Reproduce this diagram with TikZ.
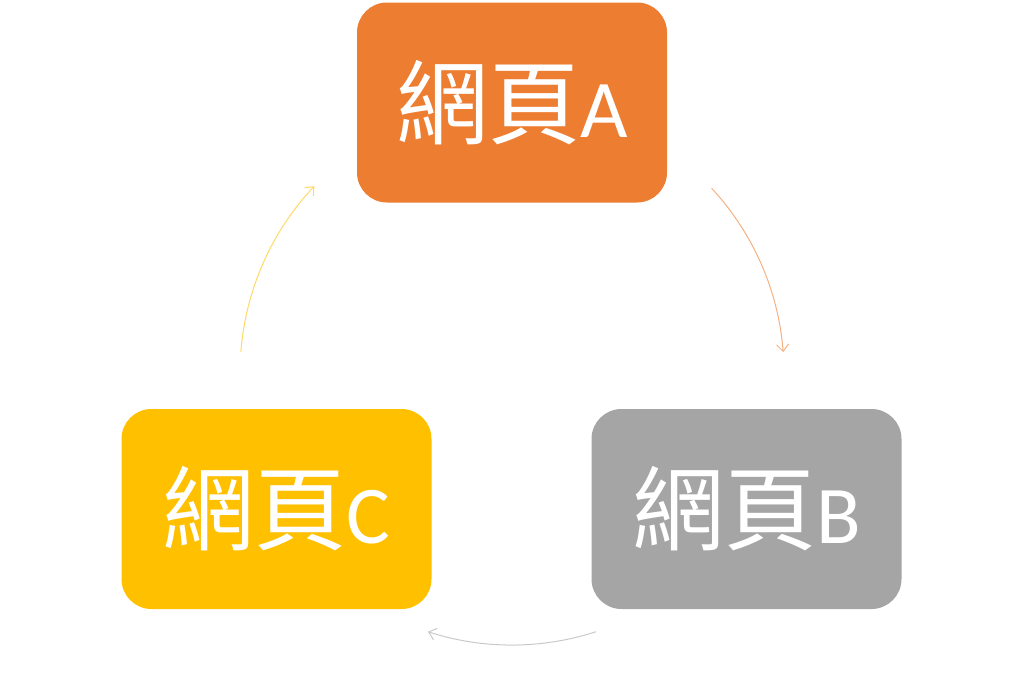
\documentclass[tikz,border=0pt]{standalone}
\usepackage{fontspec}
\setmainfont{Carlito}
\newfontfamily\cjk{Noto Sans CJK TC}
\usetikzlibrary{arrows.meta,calc}
\definecolor{cA}{HTML}{ED7D31}
\definecolor{cB}{HTML}{A5A5A5}
\definecolor{cC}{HTML}{FFC000}
\definecolor{lA}{HTML}{F4B183}
\definecolor{lB}{HTML}{C9C9C9}
\definecolor{lC}{HTML}{FFD966}
\newcommand\pglabel[1]{\raisebox{5pt}{{\cjk\fontsize{92}{94}\selectfont 網頁}\fontsize{82}{84}\selectfont #1}}
\tikzset{
  pagebox/.style={rounded corners=30pt, minimum width=310pt, minimum height=200pt, inner sep=0pt, text=white},
  cyc/.style={line width=1pt, -{Straight Barb[length=7pt,width=12pt,line width=1pt]}},
}
\begin{document}
\begin{tikzpicture}[x=1pt,y=-1pt]
\useasboundingbox (0,0) rectangle (1024,683);
\node[pagebox, fill=cA] (A) at (512,102.5) {\pglabel{A}};
\node[pagebox, fill=cB] (B) at (746.5,509) {\pglabel{B}};
\node[pagebox, fill=cC] (C) at (276.5,509) {\pglabel{C}};
\coordinate (O) at (512,373);
\coordinate (ab) at ($(O)+(-42.8:272)$);
\coordinate (bc) at ($(O)+(72:272)$);
\coordinate (ca) at ($(O)+(184.4:272)$);
\draw[cyc, lA] (ab) arc[start angle=-42.8, end angle=-4.4, radius=272];
\draw[cyc, lB] (bc) arc[start angle=72, end angle=108, radius=272];
\draw[cyc, lC] (ca) arc[start angle=184.4, end angle=223.4, radius=272];
\end{tikzpicture}
\end{document}
